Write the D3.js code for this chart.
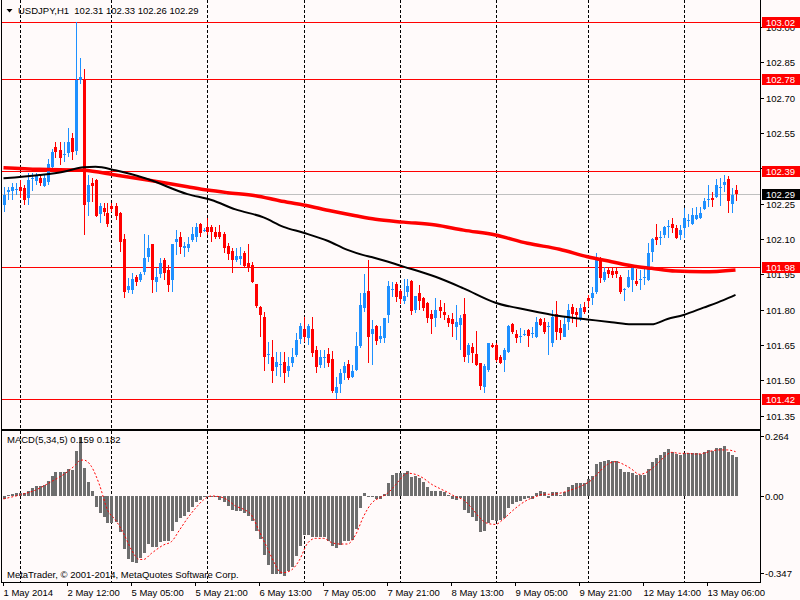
<!DOCTYPE html>
<html><head><meta charset="utf-8">
<script src="https://cdn.jsdelivr.net/npm/d3@7/dist/d3.min.js"></script>
<style>
html,body{margin:0;padding:0;background:#fffafa;}
svg{display:block;}
text{font-family:"Liberation Sans",Arial,sans-serif;font-size:9.5px;fill:#000;}
</style>
</head><body>
<svg id="c" width="800" height="600"></svg>
<script>
// ---------- DATA (USDJPY H1, one value per hourly bar) ----------
const opens=[102.245,102.301,102.304,102.311,102.322,102.318,102.276,102.358,102.348,102.361,102.327,102.344,102.406,102.491,102.478,102.458,102.464,102.528,102.474,102.774,102.779,102.259,102.339,102.351,102.206,102.233,102.209,102.240,102.240,102.209,102.100,101.884,101.884,101.938,101.926,101.959,102.022,102.078,101.919,101.950,102.011,101.967,101.926,102.089,102.107,102.061,102.061,102.096,102.108,102.164,102.138,102.153,102.153,102.132,102.132,102.122,102.072,102.051,102.011,102.016,102.040,102.000,101.990,101.908,101.813,101.771,101.610,101.601,101.559,101.569,101.580,101.538,101.576,101.608,101.676,101.717,101.679,101.719,101.629,101.566,101.597,101.612,101.590,101.446,101.485,101.530,101.569,101.516,101.545,101.646,101.809,101.880,101.699,101.731,101.677,101.678,101.777,101.884,101.909,101.879,101.838,101.876,101.922,101.798,101.869,101.848,101.830,101.784,101.767,101.810,101.791,101.767,101.759,101.728,101.735,101.780,101.607,101.643,101.612,101.572,101.470,101.544,101.650,101.650,101.600,101.586,101.622,101.738,101.699,101.688,101.697,101.714,101.698,101.685,101.759,101.749,101.726,101.657,101.781,101.721,101.685,101.746,101.813,101.791,101.760,101.813,101.851,101.848,101.876,102.011,101.926,101.968,101.965,101.964,101.940,101.884,101.898,101.926,101.922,101.929,101.933,101.926,102.046,102.110,102.106,102.117,102.155,102.166,102.148,102.117,102.148,102.180,102.166,102.185,102.188,102.227,102.267,102.273,102.277,102.321,102.329,102.357,102.247,102.310];
const highs=[102.322,102.322,102.337,102.337,102.351,102.329,102.379,102.379,102.379,102.375,102.375,102.440,102.482,102.513,102.513,102.513,102.573,102.549,103.020,102.870,102.822,102.372,102.361,102.355,102.252,102.252,102.252,102.252,102.252,102.216,102.120,101.933,101.955,101.947,101.962,102.120,102.117,102.078,101.976,102.018,102.021,101.990,102.080,102.138,102.131,102.089,102.110,102.153,102.167,102.170,102.146,102.188,102.160,102.153,102.160,102.132,102.082,102.061,102.061,102.068,102.050,102.079,102.004,101.910,101.815,101.792,101.661,101.672,101.620,101.622,101.620,101.601,101.637,101.700,101.745,101.771,101.740,101.771,101.648,101.629,101.629,101.637,101.627,101.516,101.549,101.580,101.587,101.566,101.707,101.870,101.951,102.011,101.756,101.735,101.731,101.767,101.923,101.919,101.919,101.890,101.929,101.929,101.926,101.858,101.905,101.855,101.832,101.798,101.848,101.841,101.830,101.777,101.787,101.820,101.777,101.848,101.657,101.657,101.709,101.574,101.568,101.657,101.657,101.660,101.610,101.636,101.735,101.742,101.714,101.721,101.714,101.719,101.728,101.770,101.767,101.763,101.749,101.798,101.838,101.756,101.770,101.823,101.823,101.806,101.823,101.831,101.862,101.898,102.039,102.025,101.982,101.978,101.978,101.978,101.947,101.891,101.968,101.990,101.975,101.968,101.975,102.082,102.103,102.166,102.134,102.156,102.181,102.190,102.159,102.159,102.233,102.205,102.233,102.237,102.237,102.273,102.329,102.298,102.355,102.360,102.372,102.369,102.315,102.330];
const lows=[102.216,102.266,102.266,102.287,102.273,102.245,102.245,102.304,102.329,102.327,102.322,102.329,102.400,102.443,102.414,102.428,102.450,102.436,102.457,102.760,102.117,102.199,102.259,102.195,102.167,102.199,102.153,102.216,102.181,102.046,101.848,101.870,101.865,101.902,101.919,101.947,102.004,101.870,101.877,101.933,101.926,101.877,101.877,102.032,102.037,102.025,102.046,102.089,102.089,102.108,102.132,102.118,102.089,102.099,102.099,102.040,102.011,101.958,102.004,101.990,101.980,101.962,101.915,101.806,101.686,101.538,101.570,101.488,101.519,101.516,101.488,101.516,101.559,101.601,101.655,101.665,101.651,101.601,101.530,101.552,101.552,101.559,101.446,101.420,101.446,101.502,101.502,101.509,101.538,101.637,101.792,101.573,101.565,101.650,101.657,101.657,101.745,101.855,101.834,101.824,101.824,101.855,101.777,101.787,101.798,101.794,101.745,101.699,101.728,101.763,101.756,101.728,101.685,101.671,101.629,101.579,101.572,101.575,101.561,101.459,101.448,101.537,101.636,101.579,101.569,101.537,101.617,101.699,101.657,101.660,101.688,101.640,101.678,101.678,101.731,101.699,101.607,101.640,101.671,101.671,101.685,101.714,101.742,101.728,101.752,101.784,101.813,101.820,101.865,101.912,101.919,101.936,101.936,101.933,101.865,101.837,101.891,101.874,101.902,101.883,101.905,101.922,102.004,102.077,102.074,102.103,102.103,102.124,102.100,102.096,102.106,102.152,102.159,102.181,102.185,102.223,102.237,102.237,102.273,102.241,102.301,102.209,102.209,102.260];
const closes=[102.287,102.308,102.322,102.312,102.304,102.266,102.351,102.361,102.372,102.337,102.361,102.417,102.471,102.468,102.445,102.460,102.511,102.471,102.774,102.788,102.245,102.329,102.325,102.199,102.240,102.216,102.164,102.228,102.198,102.089,101.877,101.901,101.930,101.919,101.952,102.021,102.063,101.926,101.939,101.997,101.955,101.905,102.080,102.100,102.068,102.071,102.080,102.122,102.153,102.127,102.140,102.132,102.132,102.108,102.108,102.061,102.037,102.011,102.028,102.028,101.986,101.976,101.919,101.816,101.778,101.598,101.613,101.538,101.577,101.571,101.530,101.562,101.601,101.672,101.731,101.686,101.731,101.618,101.559,101.601,101.599,101.576,101.457,101.471,101.530,101.562,101.509,101.540,101.644,101.820,101.873,101.686,101.718,101.668,101.688,101.767,101.900,101.888,101.855,101.845,101.858,101.900,101.796,101.858,101.838,101.806,101.763,101.759,101.798,101.796,101.777,101.745,101.739,101.749,101.767,101.598,101.650,101.617,101.565,101.477,101.561,101.657,101.640,101.586,101.575,101.629,101.732,101.706,101.678,101.690,101.699,101.688,101.700,101.749,101.735,101.706,101.730,101.770,101.706,101.700,101.738,101.799,101.780,101.777,101.808,101.789,101.837,101.872,102.015,101.936,101.961,101.950,101.947,101.950,101.874,101.887,101.940,101.978,101.908,101.931,101.940,102.043,102.100,102.096,102.108,102.152,102.157,102.145,102.106,102.138,102.188,102.182,102.202,102.202,102.209,102.261,102.269,102.266,102.329,102.323,102.343,102.261,102.289,102.290];

// MACD(5,34,5) histogram, one per bar
const macdMain=[-0.012,0.005,0.008,0.011,0.014,0.011,0.022,0.031,0.041,0.041,0.045,0.061,0.081,0.097,0.097,0.097,0.109,0.106,0.183,0.240,0.116,0.057,0.020,-0.044,-0.068,-0.084,-0.111,-0.111,-0.108,-0.149,-0.218,-0.258,-0.268,-0.272,-0.255,-0.231,-0.196,-0.207,-0.207,-0.186,-0.183,-0.183,-0.141,-0.105,-0.091,-0.081,-0.064,-0.047,-0.023,-0.016,-0.006,0.001,-0.003,-0.005,-0.016,-0.023,-0.041,-0.057,-0.060,-0.060,-0.071,-0.081,-0.102,-0.141,-0.175,-0.241,-0.282,-0.318,-0.318,-0.318,-0.327,-0.308,-0.288,-0.247,-0.204,-0.159,-0.159,-0.166,-0.169,-0.169,-0.169,-0.183,-0.204,-0.214,-0.200,-0.183,-0.183,-0.180,-0.133,-0.050,0.011,-0.005,-0.005,-0.014,-0.014,0.008,0.055,0.087,0.093,0.092,0.092,0.102,0.076,0.081,0.072,0.056,0.036,0.020,0.020,0.020,0.015,0.004,-0.014,-0.016,-0.009,-0.057,-0.071,-0.087,-0.102,-0.148,-0.143,-0.111,-0.098,-0.102,-0.098,-0.089,-0.050,-0.031,-0.026,-0.020,-0.014,-0.009,-0.012,0.011,0.020,0.015,-0.009,0.015,0.015,0.006,0.017,0.036,0.045,0.052,0.052,0.052,0.069,0.081,0.130,0.139,0.143,0.146,0.143,0.141,0.110,0.097,0.097,0.094,0.086,0.086,0.086,0.109,0.138,0.153,0.167,0.178,0.192,0.181,0.172,0.167,0.174,0.174,0.174,0.174,0.172,0.178,0.188,0.183,0.194,0.197,0.203,0.178,0.167,0.159];
// MACD signal line, read at these bars
const signalBars=[0,4,8,12,16,18,19,20,21,22,24,26,28,30,32,34,35,37,40,42,44,46,48,50,52,54,56,58,60,62,64,66,68,69,70,72,74,76,78,80,82,84,86,88,90,92,94,96,97,98,99,101,103,105,107,109,111,113,115,117,119,121,123,125,127,129,131,133,135,137,139,141,143,145,147,149,151,153,155,157,159,161,163,165,167,169,171,173,175,177,179,181,183];
const signalVals=[-0.012,0.004,0.024,0.059,0.099,0.127,0.144,0.147,0.140,0.120,0.045,-0.057,-0.098,-0.152,-0.220,-0.259,-0.259,-0.234,-0.200,-0.186,-0.139,-0.091,-0.050,-0.016,0.000,-0.003,-0.016,-0.041,-0.054,-0.078,-0.146,-0.214,-0.282,-0.309,-0.313,-0.302,-0.261,-0.193,-0.173,-0.173,-0.190,-0.196,-0.196,-0.159,-0.084,-0.030,-0.007,0.011,0.027,0.045,0.065,0.093,0.088,0.072,0.048,0.031,0.015,-0.003,-0.016,-0.048,-0.088,-0.112,-0.116,-0.094,-0.064,-0.037,-0.016,-0.003,0.007,0.007,0.011,0.020,0.031,0.045,0.065,0.099,0.129,0.140,0.129,0.110,0.088,0.099,0.124,0.156,0.178,0.174,0.174,0.171,0.174,0.184,0.188,0.188,0.181];
// Moving averages read at these bars
const redMABars=[0,9,20,28,36,46,51,56,63,69,75,82,88,93,100,108,115,123,131,139,146,152,157,162,168,175,183];
const redMAVals=[102.403,102.396,102.392,102.372,102.351,102.322,102.308,102.297,102.284,102.263,102.245,102.219,102.199,102.184,102.172,102.160,102.138,102.117,102.082,102.057,102.025,102.004,101.987,101.976,101.964,101.961,101.969];
const blackMABars=[0,9,15,20,23,28,36,46,52,58,65,70,75,81,86,90,92,100,108,115,123,131,139,146,152,157,162,166,170,175,180,183];
const blackMAVals=[102.358,102.372,102.386,102.405,102.407,102.392,102.355,102.291,102.266,102.226,102.192,102.152,102.127,102.093,102.054,102.032,102.024,101.983,101.940,101.891,101.830,101.799,101.773,101.759,101.747,101.738,101.738,101.761,101.778,101.809,101.841,101.863];
// horizontal levels and current price
const levels=[103.02,102.78,102.39,101.98,101.42];
const currentPrice=102.29;
const priceTicks=[103.00,102.85,102.70,102.55,102.40,102.25,102.10,101.95,101.80,101.65,101.50,101.35];
const macdTicks=[0.264,0.00,-0.347];
const macdTickLabels=["0.264","0.00","-0.347"];
// day separators (first bar of each day)
const daySeparators=[4,27,51,75,99,123,146,170];
const timeTickBars=[0,16,32,48,64,80,96,112,128,144,160,176];
const timeTickLabels=["1 May 2014","2 May 12:00","5 May 05:00","5 May 21:00","6 May 13:00","7 May 05:00","7 May 21:00","8 May 13:00","9 May 05:00","9 May 21:00","12 May 14:00","13 May 06:00"];
const titleText="USDJPY,H1  102.31 102.33 102.26 102.29";
const macdTitle="MACD(5,34,5) 0.159 0.182";
const copyright="MetaTrader, \u00A9 2001-2014, MetaQuotes Software Corp.";

// ---------- LAYOUT ----------
const RIGHT=760, MAIN_TOP=0, MAIN_BOT=428.5, M_TOP=431, M_BOT=582;
const BULL="#1e90ff", BEAR="#ff0000";
const svg=d3.select("#c");
svg.append("rect").attr("width",800).attr("height",600).attr("fill","#fffafa");

const x=d3.scaleLinear().domain([0,183]).range([3.5,735.5]);
const y=d3.scaleLinear().domain([101.298,103.115]).range([428,0]);
const ym=d3.scaleLinear().domain([-0.347,0.264]).range([581,431.3]);
const px=i=>Math.round(x(i));

const defs=svg.append("defs");
defs.append("clipPath").attr("id","clipMain").append("rect").attr("x",2).attr("y",1).attr("width",RIGHT-2).attr("height",MAIN_BOT-1);
defs.append("clipPath").attr("id","clipMacd").append("rect").attr("x",2).attr("y",M_TOP+1).attr("width",RIGHT-2).attr("height",M_BOT-M_TOP-1);

// separators (both panels)
const sep=svg.append("g").attr("stroke","#000").attr("stroke-width",1).attr("stroke-dasharray","3,2");
daySeparators.forEach(i=>{
  sep.append("line").attr("x1",px(i)+0.5).attr("x2",px(i)+0.5).attr("y1",MAIN_TOP).attr("y2",MAIN_BOT);
  sep.append("line").attr("x1",px(i)+0.5).attr("x2",px(i)+0.5).attr("y1",M_TOP).attr("y2",M_BOT);
});

const gm=svg.append("g").attr("clip-path","url(#clipMain)");
// current price line
gm.append("line").attr("x1",0).attr("x2",RIGHT).attr("y1",Math.round(y(currentPrice))+0.5).attr("y2",Math.round(y(currentPrice))+0.5).attr("stroke","#c0c0c0").attr("stroke-width",1);
// level lines
gm.selectAll("line.lvl").data(levels).enter().append("line").attr("class","lvl")
  .attr("x1",0).attr("x2",RIGHT).attr("y1",d=>Math.round(y(d))+0.5).attr("y2",d=>Math.round(y(d))+0.5)
  .attr("stroke","#ff0000").attr("stroke-width",1);

// candles
const bars=d3.range(opens.length);
const cg=gm.append("g").attr("shape-rendering","crispEdges");
cg.selectAll("line.wick").data(bars).enter().append("line")
  .attr("x1",i=>px(i)+0.5).attr("x2",i=>px(i)+0.5)
  .attr("y1",i=>y(highs[i])).attr("y2",i=>y(lows[i]))
  .attr("stroke",i=>closes[i]>=opens[i]?BULL:BEAR).attr("stroke-width",1);
cg.selectAll("rect.body").data(bars).enter().append("rect")
  .attr("x",i=>px(i)-1).attr("width",3)
  .attr("y",i=>y(Math.max(opens[i],closes[i])))
  .attr("height",i=>Math.max(1,Math.abs(y(opens[i])-y(closes[i]))))
  .attr("fill",i=>closes[i]>=opens[i]?BULL:BEAR);

// moving averages
const maLine=d3.line().x(d=>x(d[0])).y(d=>y(d[1])).curve(d3.curveMonotoneX);
gm.append("path").datum(redMABars.map((b,i)=>[b,redMAVals[i]])).attr("d",maLine)
  .attr("fill","none").attr("stroke","#ff0000").attr("stroke-width",3.5);
gm.append("path").datum(blackMABars.map((b,i)=>[b,blackMAVals[i]])).attr("d",maLine)
  .attr("fill","none").attr("stroke","#000").attr("stroke-width",2);

// MACD panel
const gmacd=svg.append("g").attr("clip-path","url(#clipMacd)");
gmacd.append("g").attr("shape-rendering","crispEdges").selectAll("rect").data(bars).enter().append("rect")
  .attr("x",i=>px(i)-1).attr("width",3)
  .attr("y",i=>Math.min(ym(macdMain[i]),ym(0)))
  .attr("height",i=>Math.max(1,Math.abs(ym(macdMain[i])-ym(0))))
  .attr("fill","#6e6e6e");
const sigLine=d3.line().x(d=>x(d[0])).y(d=>ym(d[1])).curve(d3.curveMonotoneX);
gmacd.append("path").datum(signalBars.map((b,i)=>[b,signalVals[i]])).attr("d",sigLine)
  .attr("fill","none").attr("stroke","#ff0000").attr("stroke-width",1).attr("stroke-dasharray","2,2");

// frames
const fr=svg.append("g").attr("stroke","#000").attr("stroke-width",1).attr("fill","none").attr("shape-rendering","crispEdges");
fr.append("line").attr("x1",1.5).attr("x2",1.5).attr("y1",0).attr("y2",M_BOT);
fr.append("line").attr("x1",RIGHT+0.5).attr("x2",RIGHT+0.5).attr("y1",0).attr("y2",M_BOT);
fr.append("line").attr("x1",1).attr("x2",RIGHT+1).attr("y1",MAIN_BOT+0.5).attr("y2",MAIN_BOT+0.5);
fr.append("line").attr("x1",1).attr("x2",RIGHT+1).attr("y1",M_TOP-0.5).attr("y2",M_TOP-0.5);
fr.append("line").attr("x1",1).attr("x2",RIGHT+1).attr("y1",M_BOT+0.5).attr("y2",M_BOT+0.5);

// right price axis
const ax=svg.append("g");
priceTicks.forEach(v=>{
  const yy=Math.round(y(v))+0.5;
  ax.append("line").attr("x1",RIGHT).attr("x2",RIGHT+4).attr("y1",yy).attr("y2",yy).attr("stroke","#000");
  ax.append("text").attr("x",766).attr("y",yy).attr("dy","0.35em").text(v.toFixed(2));
});
macdTicks.forEach((v,i)=>{
  const yy=i===0?436.5:(i===2?573.5:Math.round(ym(v))+0.5);
  ax.append("line").attr("x1",RIGHT).attr("x2",RIGHT+4).attr("y1",yy).attr("y2",yy).attr("stroke","#000");
  ax.append("text").attr("x",765).attr("y",yy).attr("dy","0.35em").text(macdTickLabels[i]);
});
// level tags
levels.forEach(v=>{
  const yy=Math.round(y(v))+0.5;
  ax.append("rect").attr("x",762).attr("y",yy-5.5).attr("width",38).attr("height",11).attr("fill","#ff0000");
  ax.append("text").attr("x",766).attr("y",yy).attr("dy","0.35em").style("fill","#fff").text(v.toFixed(2));
});
{
  const yy=Math.round(y(currentPrice))+0.5;
  ax.append("rect").attr("x",762).attr("y",yy-5.5).attr("width",38).attr("height",11).attr("fill","#000");
  ax.append("text").attr("x",766).attr("y",yy).attr("dy","0.35em").style("fill","#fff").text(currentPrice.toFixed(2));
}

// time axis
const tx=svg.append("g");
timeTickBars.forEach((b,i)=>{
  const xx=px(b)-0.5;
  tx.append("line").attr("x1",xx).attr("x2",xx).attr("y1",M_BOT).attr("y2",M_BOT+4).attr("stroke","#000");
  tx.append("text").attr("x",xx).attr("y",596).text(timeTickLabels[i]);
});

// titles
svg.append("path").attr("d","M6.5,9 L12.5,9 L9.5,12.5 Z").attr("fill","#000");
svg.append("text").attr("x",18).attr("y",14).style("white-space","pre").attr("xml:space","preserve").text(titleText);
svg.append("text").attr("x",7).attr("y",443).text(macdTitle);
svg.append("text").attr("x",7).attr("y",578).text(copyright);
</script>
</body></html>
